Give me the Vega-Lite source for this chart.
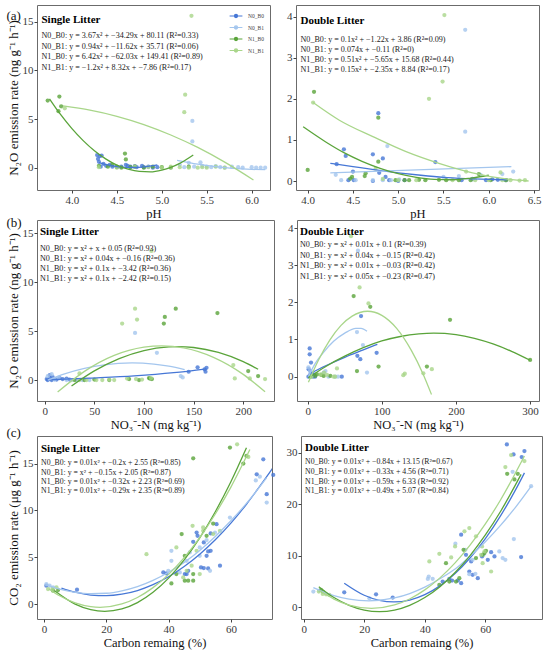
{
"$schema":"https://vega.github.io/schema/vega-lite/v6.json",
"padding":{"left":6,"top":4,"right":4,"bottom":2},
"background":"white",
"config":{
 "font":"Liberation Serif",
 "view":{"stroke":"#6b6b6b","strokeWidth":1},
 "axis":{"grid":false,"domain":false,"tickColor":"#444","tickSize":3,"tickWidth":1,"labelFont":"Liberation Serif","labelFontSize":11,"labelColor":"#3a3a3a","labelPadding":1,"titleFont":"Liberation Serif","titleFontSize":12.5,"titleFontWeight":"normal","titleColor":"#111","titlePadding":2},
 "axisY":{"titleFontSize":13}
},
"datasets":{
"pts":[
{"p":"a1","g":"N0_B0","x":4.28,"y":1.3},{"p":"a1","g":"N0_B0","x":4.31,"y":1.2},{"p":"a1","g":"N0_B0","x":4.29,"y":0.9},{"p":"a1","g":"N0_B0","x":4.3,"y":0.6},{"p":"a1","g":"N0_B0","x":4.33,"y":1.25},{"p":"a1","g":"N0_B0","x":4.35,"y":0.4},{"p":"a1","g":"N0_B0","x":4.32,"y":0.1},{"p":"a1","g":"N0_B0","x":4.38,"y":0.2},{"p":"a1","g":"N0_B0","x":4.42,"y":0.3},{"p":"a1","g":"N0_B0","x":4.45,"y":0.1},{"p":"a1","g":"N0_B0","x":4.5,"y":0.05},{"p":"a1","g":"N0_B0","x":4.55,"y":0.1},{"p":"a1","g":"N0_B0","x":4.6,"y":0.3},{"p":"a1","g":"N0_B0","x":4.62,"y":0.2},{"p":"a1","g":"N0_B0","x":4.65,"y":0.1},{"p":"a1","g":"N0_B0","x":4.7,"y":0.15},{"p":"a1","g":"N0_B0","x":4.72,"y":0.05},{"p":"a1","g":"N0_B0","x":4.78,"y":0.2},{"p":"a1","g":"N0_B0","x":4.8,"y":0.05},{"p":"a1","g":"N0_B0","x":4.85,"y":0.1},{"p":"a1","g":"N0_B0","x":4.9,"y":0.0},{"p":"a1","g":"N0_B0","x":4.95,"y":0.05},
{"p":"a1","g":"N0_B1","x":5.34,"y":4.8},{"p":"a1","g":"N0_B1","x":5.34,"y":2.7},{"p":"a1","g":"N0_B1","x":5.2,"y":0.3},{"p":"a1","g":"N0_B1","x":5.25,"y":0.05},{"p":"a1","g":"N0_B1","x":5.3,"y":0.5},{"p":"a1","g":"N0_B1","x":5.36,"y":0.1},{"p":"a1","g":"N0_B1","x":5.43,"y":0.55},{"p":"a1","g":"N0_B1","x":5.45,"y":0.2},{"p":"a1","g":"N0_B1","x":5.5,"y":0.1},{"p":"a1","g":"N0_B1","x":5.55,"y":0.05},{"p":"a1","g":"N0_B1","x":5.6,"y":0.15},{"p":"a1","g":"N0_B1","x":5.65,"y":0.05},{"p":"a1","g":"N0_B1","x":5.7,"y":0.0},{"p":"a1","g":"N0_B1","x":5.78,"y":0.1},{"p":"a1","g":"N0_B1","x":5.85,"y":0.05},{"p":"a1","g":"N0_B1","x":5.9,"y":0.0},{"p":"a1","g":"N0_B1","x":6.0,"y":0.05},{"p":"a1","g":"N0_B1","x":6.05,"y":0.0},{"p":"a1","g":"N0_B1","x":6.1,"y":0.0},{"p":"a1","g":"N0_B1","x":6.15,"y":0.0},
{"p":"a1","g":"N1_B0","x":3.73,"y":6.9},{"p":"a1","g":"N1_B0","x":3.86,"y":7.3},{"p":"a1","g":"N1_B0","x":3.88,"y":6.3},{"p":"a1","g":"N1_B0","x":3.85,"y":5.8},{"p":"a1","g":"N1_B0","x":4.59,"y":1.45},{"p":"a1","g":"N1_B0","x":4.6,"y":0.85},{"p":"a1","g":"N1_B0","x":4.3,"y":0.2},{"p":"a1","g":"N1_B0","x":4.4,"y":0.1},{"p":"a1","g":"N1_B0","x":4.45,"y":0.3},{"p":"a1","g":"N1_B0","x":4.5,"y":0.1},{"p":"a1","g":"N1_B0","x":4.55,"y":0.0},{"p":"a1","g":"N1_B0","x":4.65,"y":0.05},{"p":"a1","g":"N1_B0","x":4.7,"y":0.1},{"p":"a1","g":"N1_B0","x":4.8,"y":0.0},{"p":"a1","g":"N1_B0","x":4.9,"y":0.1},{"p":"a1","g":"N1_B0","x":5.0,"y":0.05},{"p":"a1","g":"N1_B0","x":5.1,"y":0.0},{"p":"a1","g":"N1_B0","x":5.3,"y":0.1},
{"p":"a1","g":"N1_B1","x":3.92,"y":6.1},{"p":"a1","g":"N1_B1","x":5.25,"y":5.7},{"p":"a1","g":"N1_B1","x":5.26,"y":7.5},{"p":"a1","g":"N1_B1","x":5.33,"y":15.6},{"p":"a1","g":"N1_B1","x":4.3,"y":0.05},{"p":"a1","g":"N1_B1","x":4.5,"y":0.0},{"p":"a1","g":"N1_B1","x":4.7,"y":0.1},{"p":"a1","g":"N1_B1","x":4.85,"y":0.05},{"p":"a1","g":"N1_B1","x":5.0,"y":0.0},{"p":"a1","g":"N1_B1","x":5.1,"y":0.1},{"p":"a1","g":"N1_B1","x":5.2,"y":0.05},{"p":"a1","g":"N1_B1","x":5.3,"y":0.0},{"p":"a1","g":"N1_B1","x":5.4,"y":0.0},{"p":"a1","g":"N1_B1","x":5.45,"y":0.05},{"p":"a1","g":"N1_B1","x":5.5,"y":0.0},{"p":"a1","g":"N1_B1","x":5.6,"y":0.1},{"p":"a1","g":"N1_B1","x":5.7,"y":0.0},

{"p":"a2","g":"N0_B0","x":4.32,"y":0.41},{"p":"a2","g":"N0_B0","x":4.4,"y":0.77},{"p":"a2","g":"N0_B0","x":4.42,"y":0.61},{"p":"a2","g":"N0_B0","x":4.5,"y":0.23},{"p":"a2","g":"N0_B0","x":4.45,"y":0.02},{"p":"a2","g":"N0_B0","x":4.51,"y":0.02},{"p":"a2","g":"N0_B0","x":4.72,"y":0.65},{"p":"a2","g":"N0_B0","x":4.78,"y":1.65},{"p":"a2","g":"N0_B0","x":4.83,"y":0.55},{"p":"a2","g":"N0_B0","x":4.79,"y":0.2},{"p":"a2","g":"N0_B0","x":4.72,"y":0.0},{"p":"a2","g":"N0_B0","x":4.86,"y":0.1},{"p":"a2","g":"N0_B0","x":4.9,"y":0.02},{"p":"a2","g":"N0_B0","x":5.0,"y":0.0},{"p":"a2","g":"N0_B0","x":5.07,"y":0.02},{"p":"a2","g":"N0_B0","x":5.41,"y":0.46},{"p":"a2","g":"N0_B0","x":5.7,"y":0.02},{"p":"a2","g":"N0_B0","x":5.82,"y":0.05},{"p":"a2","g":"N0_B0","x":5.97,"y":0.02},{"p":"a2","g":"N0_B0","x":6.04,"y":0.04},{"p":"a2","g":"N0_B0","x":6.19,"y":0.02},{"p":"a2","g":"N0_B0","x":6.1,"y":0.03},
{"p":"a2","g":"N0_B1","x":4.31,"y":0.15},{"p":"a2","g":"N0_B1","x":4.37,"y":0.02},{"p":"a2","g":"N0_B1","x":4.88,"y":0.85},{"p":"a2","g":"N0_B1","x":4.83,"y":0.02},{"p":"a2","g":"N0_B1","x":4.92,"y":0.02},{"p":"a2","g":"N0_B1","x":5.01,"y":0.04},{"p":"a2","g":"N0_B1","x":5.67,"y":0.12},{"p":"a2","g":"N0_B1","x":5.82,"y":0.04},{"p":"a2","g":"N0_B1","x":5.74,"y":3.68},{"p":"a2","g":"N0_B1","x":5.74,"y":1.2},{"p":"a2","g":"N0_B1","x":5.91,"y":0.15},{"p":"a2","g":"N0_B1","x":6.15,"y":0.17},{"p":"a2","g":"N0_B1","x":6.27,"y":0.23},{"p":"a2","g":"N0_B1","x":4.72,"y":0.02},{"p":"a2","g":"N0_B1","x":4.53,"y":0.02},{"p":"a2","g":"N0_B1","x":6.19,"y":0.02},{"p":"a2","g":"N0_B1","x":5.5,"y":0.1},
{"p":"a2","g":"N1_B0","x":4.0,"y":0.27},{"p":"a2","g":"N1_B0","x":4.07,"y":2.17},{"p":"a2","g":"N1_B0","x":4.47,"y":0.06},{"p":"a2","g":"N1_B0","x":4.49,"y":0.1},{"p":"a2","g":"N1_B0","x":4.63,"y":0.12},{"p":"a2","g":"N1_B0","x":4.64,"y":0.19},{"p":"a2","g":"N1_B0","x":4.78,"y":1.54},{"p":"a2","g":"N1_B0","x":4.78,"y":0.47},{"p":"a2","g":"N1_B0","x":4.97,"y":0.02},{"p":"a2","g":"N1_B0","x":5.07,"y":0.02},{"p":"a2","g":"N1_B0","x":5.12,"y":0.02},{"p":"a2","g":"N1_B0","x":5.23,"y":0.03},{"p":"a2","g":"N1_B0","x":5.3,"y":0.02},{"p":"a2","g":"N1_B0","x":5.45,"y":0.03},{"p":"a2","g":"N1_B0","x":5.53,"y":0.02},{"p":"a2","g":"N1_B0","x":5.67,"y":0.02},{"p":"a2","g":"N1_B0","x":5.8,"y":0.02},{"p":"a2","g":"N1_B0","x":5.89,"y":0.17},{"p":"a2","g":"N1_B0","x":6.02,"y":0.02},{"p":"a2","g":"N1_B0","x":6.19,"y":0.02},
{"p":"a2","g":"N1_B1","x":4.06,"y":1.91},{"p":"a2","g":"N1_B1","x":5.34,"y":2.0},{"p":"a2","g":"N1_B1","x":5.49,"y":2.42},{"p":"a2","g":"N1_B1","x":5.51,"y":4.04},{"p":"a2","g":"N1_B1","x":4.75,"y":0.3},{"p":"a2","g":"N1_B1","x":4.83,"y":0.05},{"p":"a2","g":"N1_B1","x":5.0,"y":0.02},{"p":"a2","g":"N1_B1","x":5.2,"y":0.02},{"p":"a2","g":"N1_B1","x":5.6,"y":0.02},{"p":"a2","g":"N1_B1","x":5.85,"y":0.02},{"p":"a2","g":"N1_B1","x":6.0,"y":0.02},{"p":"a2","g":"N1_B1","x":6.15,"y":0.02},{"p":"a2","g":"N1_B1","x":6.24,"y":0.02},{"p":"a2","g":"N1_B1","x":6.34,"y":0.01},{"p":"a2","g":"N1_B1","x":6.13,"y":0.21},{"p":"a2","g":"N1_B1","x":6.4,"y":0.02},{"p":"a2","g":"N1_B1","x":5.75,"y":0.23},

{"p":"b1","g":"N0_B0","x":3,"y":0.0},{"p":"b1","g":"N0_B0","x":5,"y":0.2},{"p":"b1","g":"N0_B0","x":5,"y":0.5},{"p":"b1","g":"N0_B0","x":8,"y":0.3},{"p":"b1","g":"N0_B0","x":10,"y":0.1},{"p":"b1","g":"N0_B0","x":12,"y":0.05},{"p":"b1","g":"N0_B0","x":15,"y":0.2},{"p":"b1","g":"N0_B0","x":18,"y":0.1},{"p":"b1","g":"N0_B0","x":22,"y":0.15},{"p":"b1","g":"N0_B0","x":25,"y":0.05},{"p":"b1","g":"N0_B0","x":2,"y":0.1},{"p":"b1","g":"N0_B0","x":7,"y":0.0},{"p":"b1","g":"N0_B0","x":145,"y":0.85},{"p":"b1","g":"N0_B0","x":154,"y":1.3},{"p":"b1","g":"N0_B0","x":161,"y":1.1},{"p":"b1","g":"N0_B0","x":162,"y":0.85},{"p":"b1","g":"N0_B0","x":163,"y":1.25},
{"p":"b1","g":"N0_B1","x":91,"y":4.82},{"p":"b1","g":"N0_B1","x":113,"y":2.78},{"p":"b1","g":"N0_B1","x":137,"y":0.41},{"p":"b1","g":"N0_B1","x":139,"y":0.27},{"p":"b1","g":"N0_B1","x":3,"y":0.4},{"p":"b1","g":"N0_B1","x":7,"y":0.6},{"p":"b1","g":"N0_B1","x":10,"y":0.05},{"p":"b1","g":"N0_B1","x":14,"y":0.25},{"p":"b1","g":"N0_B1","x":22,"y":0.0},{"p":"b1","g":"N0_B1","x":27,"y":0.0},{"p":"b1","g":"N0_B1","x":32,"y":0.0},{"p":"b1","g":"N0_B1","x":38,"y":0.0},{"p":"b1","g":"N0_B1","x":45,"y":0.0},
{"p":"b1","g":"N1_B0","x":132,"y":7.3},{"p":"b1","g":"N1_B0","x":121,"y":6.45},{"p":"b1","g":"N1_B0","x":120,"y":5.77},{"p":"b1","g":"N1_B0","x":174,"y":6.85},{"p":"b1","g":"N1_B0","x":205,"y":0.92},{"p":"b1","g":"N1_B0","x":215,"y":0.41},{"p":"b1","g":"N1_B0","x":50,"y":0.05},{"p":"b1","g":"N1_B0","x":65,"y":0.0},{"p":"b1","g":"N1_B0","x":85,"y":0.1},{"p":"b1","g":"N1_B0","x":95,"y":0.0},{"p":"b1","g":"N1_B0","x":105,"y":0.2},{"p":"b1","g":"N1_B0","x":106,"y":0.15},{"p":"b1","g":"N1_B0","x":108,"y":0.1},{"p":"b1","g":"N1_B0","x":40,"y":0.0},{"p":"b1","g":"N1_B0","x":30,"y":0.0},
{"p":"b1","g":"N1_B1","x":91,"y":7.3},{"p":"b1","g":"N1_B1","x":78,"y":5.77},{"p":"b1","g":"N1_B1","x":93,"y":6.18},{"p":"b1","g":"N1_B1","x":107.5,"y":13.2},{"p":"b1","g":"N1_B1","x":190,"y":1.53},{"p":"b1","g":"N1_B1","x":191.5,"y":0.17},{"p":"b1","g":"N1_B1","x":206.6,"y":0.17},{"p":"b1","g":"N1_B1","x":222,"y":0.1},{"p":"b1","g":"N1_B1","x":35,"y":0.68},{"p":"b1","g":"N1_B1","x":35,"y":0.0},{"p":"b1","g":"N1_B1","x":42,"y":0.0},{"p":"b1","g":"N1_B1","x":52,"y":0.0},{"p":"b1","g":"N1_B1","x":58,"y":0.0},{"p":"b1","g":"N1_B1","x":65,"y":0.05},{"p":"b1","g":"N1_B1","x":70,"y":0.0},{"p":"b1","g":"N1_B1","x":83,"y":0.15},{"p":"b1","g":"N1_B1","x":92,"y":0.1},{"p":"b1","g":"N1_B1","x":98,"y":0.05},{"p":"b1","g":"N1_B1","x":107,"y":0.2},

{"p":"b2","g":"N0_B0","x":2.7,"y":0.76},{"p":"b2","g":"N0_B0","x":2.7,"y":0.6},{"p":"b2","g":"N0_B0","x":4.5,"y":0.38},{"p":"b2","g":"N0_B0","x":1.3,"y":0.2},{"p":"b2","g":"N0_B0","x":3.6,"y":0.15},{"p":"b2","g":"N0_B0","x":5.8,"y":0.06},{"p":"b2","g":"N0_B0","x":8,"y":0.06},{"p":"b2","g":"N0_B0","x":10,"y":0.0},{"p":"b2","g":"N0_B0","x":46,"y":0.0},{"p":"b2","g":"N0_B0","x":67,"y":0.56},{"p":"b2","g":"N0_B0","x":71,"y":0.47},{"p":"b2","g":"N0_B0","x":72,"y":1.63},{"p":"b2","g":"N0_B0","x":93,"y":0.64},{"p":"b2","g":"N0_B0","x":7.2,"y":0.0},{"p":"b2","g":"N0_B0","x":1,"y":0.0},
{"p":"b2","g":"N0_B1","x":66.5,"y":1.2},{"p":"b2","g":"N0_B1","x":80,"y":0.11},{"p":"b2","g":"N0_B1","x":74.5,"y":0.85},{"p":"b2","g":"N0_B1","x":67.8,"y":3.39},{"p":"b2","g":"N0_B1","x":21.6,"y":0.11},{"p":"b2","g":"N0_B1","x":24,"y":0.15},{"p":"b2","g":"N0_B1","x":28,"y":0.0},{"p":"b2","g":"N0_B1","x":37,"y":0.0},{"p":"b2","g":"N0_B1","x":41,"y":0.0},{"p":"b2","g":"N0_B1","x":3,"y":0.15},{"p":"b2","g":"N0_B1","x":1,"y":0.25},
{"p":"b2","g":"N1_B0","x":66.5,"y":0.15},{"p":"b2","g":"N1_B0","x":95.6,"y":0.27},{"p":"b2","g":"N1_B0","x":160.8,"y":0.27},{"p":"b2","g":"N1_B0","x":192,"y":1.53},{"p":"b2","g":"N1_B0","x":300,"y":0.45},{"p":"b2","g":"N1_B0","x":62,"y":2.17},{"p":"b2","g":"N1_B0","x":84.4,"y":1.88},{"p":"b2","g":"N1_B0","x":12.6,"y":0.06},{"p":"b2","g":"N1_B0","x":21.6,"y":0.02},{"p":"b2","g":"N1_B0","x":30.5,"y":0.02},{"p":"b2","g":"N1_B0","x":3.6,"y":0.0},{"p":"b2","g":"N1_B0","x":10,"y":0.02},{"p":"b2","g":"N1_B0","x":18,"y":0.05},
{"p":"b2","g":"N1_B1","x":70,"y":2.4},{"p":"b2","g":"N1_B1","x":82,"y":1.97},{"p":"b2","g":"N1_B1","x":58.4,"y":3.78},{"p":"b2","g":"N1_B1","x":129,"y":0.04},{"p":"b2","g":"N1_B1","x":131,"y":0.08},{"p":"b2","g":"N1_B1","x":156,"y":0.09},{"p":"b2","g":"N1_B1","x":167.5,"y":0.2},{"p":"b2","g":"N1_B1","x":39.5,"y":0.22},{"p":"b2","g":"N1_B1","x":35,"y":0.0},{"p":"b2","g":"N1_B1","x":37,"y":0.0},{"p":"b2","g":"N1_B1","x":17.5,"y":0.06},{"p":"b2","g":"N1_B1","x":22,"y":0.11},{"p":"b2","g":"N1_B1","x":26,"y":0.05},{"p":"b2","g":"N1_B1","x":5,"y":0.0},

{"p":"c1","g":"N0_B0","x":0.75,"y":1.96},{"p":"c1","g":"N0_B0","x":10.6,"y":1.53},{"p":"c1","g":"N0_B0","x":38.3,"y":3.38},{"p":"c1","g":"N0_B0","x":39.3,"y":3.27},{"p":"c1","g":"N0_B0","x":45.8,"y":3.2},{"p":"c1","g":"N0_B0","x":47.9,"y":6.65},{"p":"c1","g":"N0_B0","x":49,"y":7.64},{"p":"c1","g":"N0_B0","x":49.3,"y":7.29},{"p":"c1","g":"N0_B0","x":50.4,"y":3.91},{"p":"c1","g":"N0_B0","x":51.3,"y":3.84},{"p":"c1","g":"N0_B0","x":52.7,"y":3.8},{"p":"c1","g":"N0_B0","x":52.2,"y":5.15},{"p":"c1","g":"N0_B0","x":52.7,"y":5.62},{"p":"c1","g":"N0_B0","x":53.5,"y":5.69},{"p":"c1","g":"N0_B0","x":53.5,"y":7.54},{"p":"c1","g":"N0_B0","x":55.4,"y":8.53},{"p":"c1","g":"N0_B0","x":51.3,"y":6.58},{"p":"c1","g":"N0_B0","x":56.5,"y":4.09},{"p":"c1","g":"N0_B0","x":68.3,"y":13.86},{"p":"c1","g":"N0_B0","x":71.5,"y":11.73},{"p":"c1","g":"N0_B0","x":73.6,"y":13.79},{"p":"c1","g":"N0_B0","x":70.4,"y":15.46},{"p":"c1","g":"N0_B0","x":45.2,"y":3.2},{"p":"c1","g":"N0_B0","x":46.3,"y":3.55},
{"p":"c1","g":"N0_B1","x":0.75,"y":2.13},{"p":"c1","g":"N0_B1","x":1.8,"y":1.96},{"p":"c1","g":"N0_B1","x":2.9,"y":1.78},{"p":"c1","g":"N0_B1","x":40.9,"y":5.69},{"p":"c1","g":"N0_B1","x":40.9,"y":4.62},{"p":"c1","g":"N0_B1","x":45.8,"y":4.62},{"p":"c1","g":"N0_B1","x":46.8,"y":5.51},{"p":"c1","g":"N0_B1","x":50,"y":5.15},{"p":"c1","g":"N0_B1","x":52.2,"y":6.83},{"p":"c1","g":"N0_B1","x":53.3,"y":3.55},{"p":"c1","g":"N0_B1","x":54.9,"y":7.64},{"p":"c1","g":"N0_B1","x":59.7,"y":9.24},{"p":"c1","g":"N0_B1","x":68,"y":13.2},{"p":"c1","g":"N0_B1","x":69.3,"y":13.6},{"p":"c1","g":"N0_B1","x":71.5,"y":10.84},{"p":"c1","g":"N0_B1","x":39.9,"y":3.55},{"p":"c1","g":"N0_B1","x":43.6,"y":3.38},{"p":"c1","g":"N0_B1","x":50,"y":6.04},
{"p":"c1","g":"N1_B0","x":2.9,"y":1.42},{"p":"c1","g":"N1_B0","x":4.5,"y":1.49},{"p":"c1","g":"N1_B0","x":40.9,"y":2.2},{"p":"c1","g":"N1_B0","x":44.2,"y":7.47},{"p":"c1","g":"N1_B0","x":45.2,"y":5.15},{"p":"c1","g":"N1_B0","x":45.2,"y":2.49},{"p":"c1","g":"N1_B0","x":46.3,"y":2.49},{"p":"c1","g":"N1_B0","x":47.9,"y":2.49},{"p":"c1","g":"N1_B0","x":47.9,"y":15.57},{"p":"c1","g":"N1_B0","x":52.2,"y":7.29},{"p":"c1","g":"N1_B0","x":54.3,"y":8.6},{"p":"c1","g":"N1_B0","x":59.7,"y":16.71},{"p":"c1","g":"N1_B0","x":64,"y":15.0},{"p":"c1","g":"N1_B0","x":65,"y":15.82},{"p":"c1","g":"N1_B0","x":47.9,"y":3.2},{"p":"c1","g":"N1_B0","x":42.5,"y":3.2},
{"p":"c1","g":"N1_B1","x":1.3,"y":1.6},{"p":"c1","g":"N1_B1","x":2.7,"y":1.6},{"p":"c1","g":"N1_B1","x":4,"y":1.78},{"p":"c1","g":"N1_B1","x":32.9,"y":5.33},{"p":"c1","g":"N1_B1","x":42.5,"y":6.04},{"p":"c1","g":"N1_B1","x":47.7,"y":8.35},{"p":"c1","g":"N1_B1","x":51.1,"y":8.18},{"p":"c1","g":"N1_B1","x":51.1,"y":7.82},{"p":"c1","g":"N1_B1","x":54.3,"y":7.47},{"p":"c1","g":"N1_B1","x":56.5,"y":7.82},{"p":"c1","g":"N1_B1","x":62,"y":17.06},{"p":"c1","g":"N1_B1","x":65.6,"y":15.71},{"p":"c1","g":"N1_B1","x":45.8,"y":3.55},{"p":"c1","g":"N1_B1","x":47.4,"y":4.09},{"p":"c1","g":"N1_B1","x":50,"y":3.2},{"p":"c1","g":"N1_B1","x":44.7,"y":2.84},{"p":"c1","g":"N1_B1","x":49,"y":5.69},

{"p":"c2","g":"N0_B0","x":13.4,"y":2.92},{"p":"c2","g":"N0_B0","x":23.9,"y":2.53},{"p":"c2","g":"N0_B0","x":29.4,"y":1.88},{"p":"c2","g":"N0_B0","x":52,"y":14.09},{"p":"c2","g":"N0_B0","x":52,"y":4.68},{"p":"c2","g":"N0_B0","x":50.9,"y":5.19},{"p":"c2","g":"N0_B0","x":49,"y":5.19},{"p":"c2","g":"N0_B0","x":53.6,"y":10.19},{"p":"c2","g":"N0_B0","x":54.7,"y":6.95},{"p":"c2","g":"N0_B0","x":55.3,"y":8.9},{"p":"c2","g":"N0_B0","x":55.8,"y":6.3},{"p":"c2","g":"N0_B0","x":57.5,"y":5.65},{"p":"c2","g":"N0_B0","x":58.9,"y":9.87},{"p":"c2","g":"N0_B0","x":60.8,"y":9.22},{"p":"c2","g":"N0_B0","x":61.9,"y":10.71},{"p":"c2","g":"N0_B0","x":63,"y":9.87},{"p":"c2","g":"N0_B0","x":67.1,"y":31.62},{"p":"c2","g":"N0_B0","x":69.3,"y":29.68},{"p":"c2","g":"N0_B0","x":72,"y":29.16},{"p":"c2","g":"N0_B0","x":72.9,"y":30.32},{"p":"c2","g":"N0_B0","x":71.8,"y":9.74},{"p":"c2","g":"N0_B0","x":45.9,"y":5.0},{"p":"c2","g":"N0_B0","x":48.1,"y":5.52},
{"p":"c2","g":"N0_B1","x":3.2,"y":3.05},{"p":"c2","g":"N0_B1","x":5.2,"y":3.25},{"p":"c2","g":"N0_B1","x":21.7,"y":1.75},{"p":"c2","g":"N0_B1","x":41.3,"y":5.97},{"p":"c2","g":"N0_B1","x":42.6,"y":5.52},{"p":"c2","g":"N0_B1","x":50.1,"y":12.34},{"p":"c2","g":"N0_B1","x":53.4,"y":11.17},{"p":"c2","g":"N0_B1","x":54.7,"y":6.43},{"p":"c2","g":"N0_B1","x":56.7,"y":6.49},{"p":"c2","g":"N0_B1","x":59.4,"y":10.19},{"p":"c2","g":"N0_B1","x":64.6,"y":10.84},{"p":"c2","g":"N0_B1","x":65.7,"y":9.55},{"p":"c2","g":"N0_B1","x":66.6,"y":9.22},{"p":"c2","g":"N0_B1","x":69,"y":26.3},{"p":"c2","g":"N0_B1","x":69.4,"y":13.25},{"p":"c2","g":"N0_B1","x":75.1,"y":23.51},{"p":"c2","g":"N0_B1","x":55.8,"y":9.22},{"p":"c2","g":"N0_B1","x":41,"y":5.5},
{"p":"c2","g":"N1_B0","x":5.7,"y":3.38},{"p":"c2","g":"N1_B0","x":6.3,"y":3.05},{"p":"c2","g":"N1_B0","x":47,"y":8.57},{"p":"c2","g":"N1_B0","x":44.8,"y":4.35},{"p":"c2","g":"N1_B0","x":48.1,"y":5.0},{"p":"c2","g":"N1_B0","x":50.3,"y":5.0},{"p":"c2","g":"N1_B0","x":51.4,"y":5.65},{"p":"c2","g":"N1_B0","x":52.8,"y":11.17},{"p":"c2","g":"N1_B0","x":59.7,"y":10.52},{"p":"c2","g":"N1_B0","x":60.2,"y":10.97},{"p":"c2","g":"N1_B0","x":67.2,"y":25.91},{"p":"c2","g":"N1_B0","x":69.6,"y":24.81},{"p":"c2","g":"N1_B0","x":70.7,"y":25.91},{"p":"c2","g":"N1_B0","x":56.9,"y":9.55},{"p":"c2","g":"N1_B0","x":59.1,"y":10.19},
{"p":"c2","g":"N1_B1","x":5,"y":3.05},{"p":"c2","g":"N1_B1","x":6.3,"y":2.6},{"p":"c2","g":"N1_B1","x":7.4,"y":2.53},{"p":"c2","g":"N1_B1","x":8.5,"y":2.4},{"p":"c2","g":"N1_B1","x":41.5,"y":8.9},{"p":"c2","g":"N1_B1","x":44.8,"y":10.39},{"p":"c2","g":"N1_B1","x":48.7,"y":9.68},{"p":"c2","g":"N1_B1","x":50,"y":11.82},{"p":"c2","g":"N1_B1","x":53.1,"y":14.74},{"p":"c2","g":"N1_B1","x":54.7,"y":15.39},{"p":"c2","g":"N1_B1","x":56.9,"y":13.77},{"p":"c2","g":"N1_B1","x":58.9,"y":11.82},{"p":"c2","g":"N1_B1","x":59.1,"y":8.57},{"p":"c2","g":"N1_B1","x":61.9,"y":6.95},{"p":"c2","g":"N1_B1","x":66.6,"y":27.21},{"p":"c2","g":"N1_B1","x":68.5,"y":29.55},{"p":"c2","g":"N1_B1","x":72.9,"y":28.38},{"p":"c2","g":"N1_B1","x":58.6,"y":10.19},{"p":"c2","g":"N1_B1","x":59.7,"y":10.84}
],
"crv":[
{"p":"a1","g":"N0_B0","x":4.3,"y":0.52},{"p":"a1","g":"N0_B0","x":4.4,"y":0.28},{"p":"a1","g":"N0_B0","x":4.5,"y":0.12},{"p":"a1","g":"N0_B0","x":4.6,"y":0.04},{"p":"a1","g":"N0_B0","x":4.7,"y":0.02},{"p":"a1","g":"N0_B0","x":4.8,"y":0.08},{"p":"a1","g":"N0_B0","x":4.9,"y":0.21},{"p":"a1","g":"N0_B0","x":4.95,"y":0.29},
{"p":"a1","g":"N0_B1","x":5.17,"y":0.76},{"p":"a1","g":"N0_B1","x":5.4,"y":0.37},{"p":"a1","g":"N0_B1","x":5.6,"y":0.12},{"p":"a1","g":"N0_B1","x":5.8,"y":-0.07},{"p":"a1","g":"N0_B1","x":6.0,"y":-0.17},{"p":"a1","g":"N0_B1","x":6.15,"y":-0.2},
{"p":"a1","g":"N1_B0","x":3.75,"y":7.08},{"p":"a1","g":"N1_B0","x":3.875,"y":5.44},{"p":"a1","g":"N1_B0","x":4.0,"y":4.01},{"p":"a1","g":"N1_B0","x":4.125,"y":2.78},{"p":"a1","g":"N1_B0","x":4.25,"y":1.74},{"p":"a1","g":"N1_B0","x":4.375,"y":0.91},{"p":"a1","g":"N1_B0","x":4.5,"y":0.27},{"p":"a1","g":"N1_B0","x":4.625,"y":-0.15},{"p":"a1","g":"N1_B0","x":4.75,"y":-0.38},{"p":"a1","g":"N1_B0","x":4.875,"y":-0.42},{"p":"a1","g":"N1_B0","x":5.0,"y":-0.24},{"p":"a1","g":"N1_B0","x":5.1,"y":0.04},{"p":"a1","g":"N1_B0","x":5.2,"y":0.45},{"p":"a1","g":"N1_B0","x":5.35,"y":1.31},
{"p":"a1","g":"N1_B1","x":3.9,"y":6.34},{"p":"a1","g":"N1_B1","x":4.2,"y":5.91},{"p":"a1","g":"N1_B1","x":4.5,"y":5.28},{"p":"a1","g":"N1_B1","x":4.8,"y":4.43},{"p":"a1","g":"N1_B1","x":5.1,"y":3.36},{"p":"a1","g":"N1_B1","x":5.4,"y":2.08},{"p":"a1","g":"N1_B1","x":5.7,"y":0.57},{"p":"a1","g":"N1_B1","x":6.02,"y":-1.26},

{"p":"a2","g":"N0_B0","x":4.25,"y":0.43},{"p":"a2","g":"N0_B0","x":4.5,"y":0.35},{"p":"a2","g":"N0_B0","x":4.75,"y":0.27},{"p":"a2","g":"N0_B0","x":5.0,"y":0.2},{"p":"a2","g":"N0_B0","x":5.25,"y":0.14},{"p":"a2","g":"N0_B0","x":5.5,"y":0.09},{"p":"a2","g":"N0_B0","x":5.75,"y":0.06},{"p":"a2","g":"N0_B0","x":6.0,"y":0.04},{"p":"a2","g":"N0_B0","x":6.2,"y":0.03},
{"p":"a2","g":"N0_B1","x":4.25,"y":0.2},{"p":"a2","g":"N0_B1","x":6.25,"y":0.35},
{"p":"a2","g":"N1_B0","x":3.95,"y":1.32},{"p":"a2","g":"N1_B0","x":4.2,"y":0.95},{"p":"a2","g":"N1_B0","x":4.4,"y":0.69},{"p":"a2","g":"N1_B0","x":4.6,"y":0.48},{"p":"a2","g":"N1_B0","x":4.8,"y":0.31},{"p":"a2","g":"N1_B0","x":5.0,"y":0.18},{"p":"a2","g":"N1_B0","x":5.2,"y":0.09},{"p":"a2","g":"N1_B0","x":5.4,"y":0.04},{"p":"a2","g":"N1_B0","x":5.6,"y":0.03},{"p":"a2","g":"N1_B0","x":5.8,"y":0.07},{"p":"a2","g":"N1_B0","x":6.0,"y":0.14},
{"p":"a2","g":"N1_B1","x":4.06,"y":1.91},{"p":"a2","g":"N1_B1","x":4.35,"y":1.48},{"p":"a2","g":"N1_B1","x":4.72,"y":1.08},{"p":"a2","g":"N1_B1","x":5.08,"y":0.72},{"p":"a2","g":"N1_B1","x":5.45,"y":0.43},{"p":"a2","g":"N1_B1","x":5.82,"y":0.2},{"p":"a2","g":"N1_B1","x":6.19,"y":0.05},{"p":"a2","g":"N1_B1","x":6.44,"y":0.0},

{"p":"b1","g":"N0_B0","x":2,"y":0.02},{"p":"b1","g":"N0_B0","x":45,"y":0.2},{"p":"b1","g":"N0_B0","x":90,"y":0.42},{"p":"b1","g":"N0_B0","x":130,"y":0.75},{"p":"b1","g":"N0_B0","x":163,"y":1.15},
{"p":"b1","g":"N0_B1","x":3,"y":0.0},{"p":"b1","g":"N0_B1","x":20,"y":0.63},{"p":"b1","g":"N0_B1","x":40,"y":1.19},{"p":"b1","g":"N0_B1","x":60,"y":1.56},{"p":"b1","g":"N0_B1","x":88,"y":1.75},{"p":"b1","g":"N0_B1","x":110,"y":1.63},{"p":"b1","g":"N0_B1","x":125,"y":1.42},{"p":"b1","g":"N0_B1","x":141,"y":1.07},
{"p":"b1","g":"N1_B0","x":27,"y":-0.6},{"p":"b1","g":"N1_B0","x":50,"y":0.94},{"p":"b1","g":"N1_B0","x":75,"y":2.2},{"p":"b1","g":"N1_B0","x":100,"y":3.02},{"p":"b1","g":"N1_B0","x":125,"y":3.39},{"p":"b1","g":"N1_B0","x":134,"y":3.42},{"p":"b1","g":"N1_B0","x":150,"y":3.33},{"p":"b1","g":"N1_B0","x":175,"y":2.82},{"p":"b1","g":"N1_B0","x":200,"y":1.88},{"p":"b1","g":"N1_B0","x":215,"y":1.1},
{"p":"b1","g":"N1_B1","x":13,"y":-1.22},{"p":"b1","g":"N1_B1","x":40,"y":0.89},{"p":"b1","g":"N1_B1","x":70,"y":2.52},{"p":"b1","g":"N1_B1","x":100,"y":3.36},{"p":"b1","g":"N1_B1","x":118,"y":3.5},{"p":"b1","g":"N1_B1","x":140,"y":3.29},{"p":"b1","g":"N1_B1","x":170,"y":2.32},{"p":"b1","g":"N1_B1","x":200,"y":0.58},{"p":"b1","g":"N1_B1","x":222,"y":-1.2},

{"p":"b2","g":"N0_B0","x":1,"y":0.06},{"p":"b2","g":"N0_B0","x":25,"y":0.3},{"p":"b2","g":"N0_B0","x":50,"y":0.52},{"p":"b2","g":"N0_B0","x":75,"y":0.72},{"p":"b2","g":"N0_B0","x":94,"y":0.87},
{"p":"b2","g":"N0_B1","x":1,"y":0.0},{"p":"b2","g":"N0_B1","x":10,"y":0.35},{"p":"b2","g":"N0_B1","x":20,"y":0.62},{"p":"b2","g":"N0_B1","x":35,"y":0.95},{"p":"b2","g":"N0_B1","x":50,"y":1.17},{"p":"b2","g":"N0_B1","x":65,"y":1.3},{"p":"b2","g":"N0_B1","x":72,"y":1.3},{"p":"b2","g":"N0_B1","x":80,"y":1.22},
{"p":"b2","g":"N1_B0","x":1,"y":-0.03},{"p":"b2","g":"N1_B0","x":25,"y":0.28},{"p":"b2","g":"N1_B0","x":50,"y":0.55},{"p":"b2","g":"N1_B0","x":75,"y":0.78},{"p":"b2","g":"N1_B0","x":100,"y":0.96},{"p":"b2","g":"N1_B0","x":125,"y":1.08},{"p":"b2","g":"N1_B0","x":150,"y":1.15},{"p":"b2","g":"N1_B0","x":170,"y":1.17},{"p":"b2","g":"N1_B0","x":200,"y":1.13},{"p":"b2","g":"N1_B0","x":225,"y":1.03},{"p":"b2","g":"N1_B0","x":250,"y":0.88},{"p":"b2","g":"N1_B0","x":275,"y":0.68},{"p":"b2","g":"N1_B0","x":300,"y":0.44},
{"p":"b2","g":"N1_B1","x":1,"y":-0.15},{"p":"b2","g":"N1_B1","x":15,"y":0.46},{"p":"b2","g":"N1_B1","x":30,"y":0.99},{"p":"b2","g":"N1_B1","x":45,"y":1.38},{"p":"b2","g":"N1_B1","x":60,"y":1.63},{"p":"b2","g":"N1_B1","x":80.7,"y":1.76},{"p":"b2","g":"N1_B1","x":100,"y":1.65},{"p":"b2","g":"N1_B1","x":120,"y":1.3},{"p":"b2","g":"N1_B1","x":140,"y":0.7},{"p":"b2","g":"N1_B1","x":155,"y":0.1},{"p":"b2","g":"N1_B1","x":167,"y":-0.48},

{"p":"c1","g":"N0_B0","x":5.6,"y":1.71},{"p":"c1","g":"N0_B0","x":10,"y":1.26},{"p":"c1","g":"N0_B0","x":15,"y":0.96},{"p":"c1","g":"N0_B0","x":20,"y":0.89},{"p":"c1","g":"N0_B0","x":25,"y":1.05},{"p":"c1","g":"N0_B0","x":30,"y":1.44},{"p":"c1","g":"N0_B0","x":35,"y":2.07},{"p":"c1","g":"N0_B0","x":40,"y":2.91},{"p":"c1","g":"N0_B0","x":45,"y":4.0},{"p":"c1","g":"N0_B0","x":50,"y":5.32},{"p":"c1","g":"N0_B0","x":55,"y":6.86},{"p":"c1","g":"N0_B0","x":60,"y":8.64},{"p":"c1","g":"N0_B0","x":65,"y":10.66},{"p":"c1","g":"N0_B0","x":70,"y":12.91},{"p":"c1","g":"N0_B0","x":73.6,"y":14.6},
{"p":"c1","g":"N0_B1","x":0.75,"y":2.06},{"p":"c1","g":"N0_B1","x":5,"y":1.6},{"p":"c1","g":"N0_B1","x":10,"y":1.25},{"p":"c1","g":"N0_B1","x":15,"y":1.1},{"p":"c1","g":"N0_B1","x":20,"y":1.15},{"p":"c1","g":"N0_B1","x":25,"y":1.41},{"p":"c1","g":"N0_B1","x":30,"y":1.86},{"p":"c1","g":"N0_B1","x":35,"y":2.52},{"p":"c1","g":"N0_B1","x":40,"y":3.39},{"p":"c1","g":"N0_B1","x":45,"y":4.45},{"p":"c1","g":"N0_B1","x":50,"y":5.73},{"p":"c1","g":"N0_B1","x":55,"y":7.22},{"p":"c1","g":"N0_B1","x":60,"y":8.89},{"p":"c1","g":"N0_B1","x":65,"y":10.75},{"p":"c1","g":"N0_B1","x":71.5,"y":13.5},
{"p":"c1","g":"N1_B0","x":3.4,"y":1.41},{"p":"c1","g":"N1_B0","x":10,"y":-0.02},{"p":"c1","g":"N1_B0","x":15,"y":-0.61},{"p":"c1","g":"N1_B0","x":19.5,"y":-0.78},{"p":"c1","g":"N1_B0","x":25,"y":-0.52},{"p":"c1","g":"N1_B0","x":30,"y":0.15},{"p":"c1","g":"N1_B0","x":35,"y":1.25},{"p":"c1","g":"N1_B0","x":40,"y":2.77},{"p":"c1","g":"N1_B0","x":45,"y":4.71},{"p":"c1","g":"N1_B0","x":50,"y":7.07},{"p":"c1","g":"N1_B0","x":55,"y":9.86},{"p":"c1","g":"N1_B0","x":60,"y":13.06},{"p":"c1","g":"N1_B0","x":65,"y":16.69},
{"p":"c1","g":"N1_B1","x":1.6,"y":1.61},{"p":"c1","g":"N1_B1","x":5,"y":0.88},{"p":"c1","g":"N1_B1","x":10,"y":0.12},{"p":"c1","g":"N1_B1","x":15,"y":-0.28},{"p":"c1","g":"N1_B1","x":18,"y":-0.35},{"p":"c1","g":"N1_B1","x":25,"y":0.01},{"p":"c1","g":"N1_B1","x":30,"y":0.7},{"p":"c1","g":"N1_B1","x":35,"y":1.75},{"p":"c1","g":"N1_B1","x":40,"y":3.17},{"p":"c1","g":"N1_B1","x":45,"y":4.96},{"p":"c1","g":"N1_B1","x":50,"y":7.1},{"p":"c1","g":"N1_B1","x":55,"y":9.62},{"p":"c1","g":"N1_B1","x":60,"y":12.49},{"p":"c1","g":"N1_B1","x":66.1,"y":16.5},

{"p":"c2","g":"N0_B0","x":13.4,"y":4.68},{"p":"c2","g":"N0_B0","x":20,"y":2.34},{"p":"c2","g":"N0_B0","x":25,"y":1.36},{"p":"c2","g":"N0_B0","x":29.8,"y":1.05},{"p":"c2","g":"N0_B0","x":35,"y":1.41},{"p":"c2","g":"N0_B0","x":40,"y":2.45},{"p":"c2","g":"N0_B0","x":45,"y":4.16},{"p":"c2","g":"N0_B0","x":50,"y":6.55},{"p":"c2","g":"N0_B0","x":55,"y":9.61},{"p":"c2","g":"N0_B0","x":60,"y":13.34},{"p":"c2","g":"N0_B0","x":65,"y":17.75},{"p":"c2","g":"N0_B0","x":70,"y":22.83},{"p":"c2","g":"N0_B0","x":72.9,"y":26.1},
{"p":"c2","g":"N0_B1","x":3.2,"y":3.83},{"p":"c2","g":"N0_B1","x":10,"y":2.26},{"p":"c2","g":"N0_B1","x":15,"y":1.57},{"p":"c2","g":"N0_B1","x":21.5,"y":1.25},{"p":"c2","g":"N0_B1","x":30,"y":1.81},{"p":"c2","g":"N0_B1","x":35,"y":2.67},{"p":"c2","g":"N0_B1","x":40,"y":3.91},{"p":"c2","g":"N0_B1","x":45,"y":5.53},{"p":"c2","g":"N0_B1","x":50,"y":7.42},{"p":"c2","g":"N0_B1","x":55,"y":9.94},{"p":"c2","g":"N0_B1","x":60,"y":12.73},{"p":"c2","g":"N0_B1","x":65,"y":15.91},{"p":"c2","g":"N0_B1","x":70,"y":19.46},{"p":"c2","g":"N0_B1","x":75.1,"y":23.49},
{"p":"c2","g":"N1_B0","x":5,"y":4.01},{"p":"c2","g":"N1_B0","x":10,"y":1.89},{"p":"c2","g":"N1_B0","x":15,"y":0.37},{"p":"c2","g":"N1_B0","x":20,"y":-0.55},{"p":"c2","g":"N1_B0","x":25,"y":-0.85},{"p":"c2","g":"N1_B0","x":30,"y":-0.55},{"p":"c2","g":"N1_B0","x":35,"y":0.37},{"p":"c2","g":"N1_B0","x":40,"y":1.89},{"p":"c2","g":"N1_B0","x":45,"y":4.01},{"p":"c2","g":"N1_B0","x":50,"y":6.75},{"p":"c2","g":"N1_B0","x":55,"y":10.09},{"p":"c2","g":"N1_B0","x":60,"y":14.05},{"p":"c2","g":"N1_B0","x":65,"y":18.6},{"p":"c2","g":"N1_B0","x":71.8,"y":25.8},
{"p":"c2","g":"N1_B1","x":5.2,"y":3.25},{"p":"c2","g":"N1_B1","x":10,"y":1.6},{"p":"c2","g":"N1_B1","x":15,"y":0.44},{"p":"c2","g":"N1_B1","x":22.4,"y":-0.2},{"p":"c2","g":"N1_B1","x":30,"y":0.46},{"p":"c2","g":"N1_B1","x":35,"y":1.62},{"p":"c2","g":"N1_B1","x":40,"y":3.38},{"p":"c2","g":"N1_B1","x":45,"y":5.71},{"p":"c2","g":"N1_B1","x":50,"y":8.62},{"p":"c2","g":"N1_B1","x":55,"y":12.11},{"p":"c2","g":"N1_B1","x":60,"y":16.18},{"p":"c2","g":"N1_B1","x":65,"y":20.83},{"p":"c2","g":"N1_B1","x":72.9,"y":29.36}
]
},
"vconcat":[
{"title":{"text":"(a)","anchor":"start","frame":"bounds","offset":-18,"fontSize":13,"fontWeight":"normal","font":"Liberation Serif","color":"#111"},
 "spacing":15,
 "resolve":{"scale":{"x":"independent","y":"independent","color":"independent"}},
 "hconcat":[
 {"width":233,"height":185,
  "title":{"text":"Single Litter","subtitle":["N0_B0: y = 3.67x² + −34.29x + 80.11 (R²=0.33)","N0_B1: y = 0.94x² + −11.62x + 35.71 (R²=0.06)","N1_B0: y = 6.42x² + −62.03x + 149.41 (R²=0.89)","N1_B1: y = −1.2x² + 8.32x + −7.86 (R²=0.17)"],"anchor":"start","frame":"group","offset":-67,"dx":4.5,"font":"Liberation Serif","fontSize":11,"fontWeight":"bold","color":"#000","subtitleFont":"Liberation Serif","subtitleFontSize":8.1,"subtitleColor":"#222","subtitleLineHeight":10.5,"subtitlePadding":7},
  "layer":[
   {"data":{"name":"pts"},"transform":[{"filter":"datum.p == 'a1'"}],"mark":{"type":"circle","size":18,"opacity":0.8},
    "encoding":{"x":{"field":"x","type":"quantitative","scale":{"domain":[3.611,6.204],"nice":false,"zero":false},"axis":{"values":[4,4.5,5,5.5,6],"format":".1f","title":"pH"}},
     "y":{"field":"y","type":"quantitative","scale":{"domain":[-2.29,16.71],"nice":false,"zero":false},"axis":{"values":[0,5,10,15],"title":"N₂O emission rate (ng g⁻¹ h⁻¹)"}},
     "color":{"field":"g","type":"nominal","scale":{"domain":["N0_B0","N0_B1","N1_B0","N1_B1"],"range":["#4677d6","#a4c6ee","#5aa43a","#a9d68a"]},
      "legend":{"orient":"top-right","offset":4,"title":null,"labelFont":"Liberation Serif","labelFontSize":5.5,"labelColor":"#444","symbolType":"M-1.6,0L1.6,0M-0.4,0A0.4,0.4,0,1,1,0.4,0A0.4,0.4,0,1,1,-0.4,0","symbolSize":64,"symbolStrokeWidth":1.1,"symbolOpacity":1,"rowPadding":2.5,"labelOffset":7,"padding":2}}}},
   {"data":{"name":"crv"},"transform":[{"filter":"datum.p == 'a1'"}],"mark":{"type":"line","interpolate":"monotone","strokeWidth":1.3,"clip":true},
    "encoding":{"x":{"field":"x","type":"quantitative","scale":{"domain":[3.611,6.204],"nice":false,"zero":false},"axis":{"values":[4,4.5,5,5.5,6],"format":".1f","title":"pH"}},
     "y":{"field":"y","type":"quantitative","scale":{"domain":[-2.29,16.71],"nice":false,"zero":false},"axis":{"values":[0,5,10,15],"title":"N₂O emission rate (ng g⁻¹ h⁻¹)"}},
     "color":{"field":"g","type":"nominal","scale":{"domain":["N0_B0","N0_B1","N1_B0","N1_B1"],"range":["#4677d6","#a4c6ee","#5aa43a","#a9d68a"]},
      "legend":{"orient":"top-right","offset":4,"title":null,"labelFont":"Liberation Serif","labelFontSize":5.5,"labelColor":"#444","symbolType":"M-1.6,0L1.6,0M-0.4,0A0.4,0.4,0,1,1,0.4,0A0.4,0.4,0,1,1,-0.4,0","symbolSize":64,"symbolStrokeWidth":1.1,"symbolOpacity":1,"rowPadding":2.5,"labelOffset":7,"padding":2}}}}
  ]},
 {"width":243,"height":185,
  "title":{"text":"Double Litter","subtitle":["N0_B0: y = 0.1x² + −1.22x + 3.86 (R²=0.09)","N0_B1: y = 0.074x + −0.11 (R²=0)","N1_B0: y = 0.51x² + −5.65x + 15.68 (R²=0.44)","N1_B1: y = 0.15x² + −2.35x + 8.84 (R²=0.17)"],"anchor":"start","frame":"group","offset":-69.5,"dx":4.5,"font":"Liberation Serif","fontSize":11,"fontWeight":"bold","color":"#000","subtitleFont":"Liberation Serif","subtitleFontSize":8.1,"subtitleColor":"#222","subtitleLineHeight":10.2,"subtitlePadding":9.5},
  "layer":[
   {"data":{"name":"pts"},"transform":[{"filter":"datum.p == 'a2'"}],"mark":{"type":"circle","size":18,"opacity":0.8},
    "encoding":{"x":{"field":"x","type":"quantitative","scale":{"domain":[3.871,6.555],"nice":false,"zero":false},"axis":{"values":[4,4.5,5,5.5,6,6.5],"format":".1f","title":"pH"}},
     "y":{"field":"y","type":"quantitative","scale":{"domain":[-0.219,4.284],"nice":false,"zero":false},"axis":{"values":[0,1,2,3,4],"title":null}},
     "color":{"field":"g","type":"nominal","scale":{"domain":["N0_B0","N0_B1","N1_B0","N1_B1"],"range":["#4677d6","#a4c6ee","#5aa43a","#a9d68a"]},"legend":null}}},
   {"data":{"name":"crv"},"transform":[{"filter":"datum.p == 'a2'"}],"mark":{"type":"line","interpolate":"monotone","strokeWidth":1.3,"clip":true},
    "encoding":{"x":{"field":"x","type":"quantitative","scale":{"domain":[3.871,6.555],"nice":false,"zero":false},"axis":{"values":[4,4.5,5,5.5,6,6.5],"format":".1f","title":"pH"}},
     "y":{"field":"y","type":"quantitative","scale":{"domain":[-0.219,4.284],"nice":false,"zero":false},"axis":{"values":[0,1,2,3,4],"title":null}},
     "color":{"field":"g","type":"nominal","scale":{"domain":["N0_B0","N0_B1","N1_B0","N1_B1"],"range":["#4677d6","#a4c6ee","#5aa43a","#a9d68a"]},"legend":null}}}
  ]}
 ]},
{"title":{"text":"(b)","anchor":"start","frame":"bounds","offset":-10,"fontSize":13,"fontWeight":"normal","font":"Liberation Serif","color":"#111"},
 "spacing":12,
 "resolve":{"scale":{"x":"independent","y":"independent","color":"independent"}},
 "hconcat":[
 {"width":237,"height":181,
  "title":{"text":"Single Litter","subtitle":["N0_B0: y = x² + x + 0.05 (R²=0.93)","N0_B1: y = x² + 0.04x + −0.16 (R²=0.36)","N1_B0: y = x² + 0.1x + −3.42 (R²=0.36)","N1_B1: y = x² + 0.1x + −2.42 (R²=0.15)"],"anchor":"start","frame":"group","offset":-63,"dx":3,"font":"Liberation Serif","fontSize":11,"fontWeight":"bold","color":"#000","subtitleFont":"Liberation Serif","subtitleFontSize":8.1,"subtitleColor":"#222","subtitleLineHeight":10,"subtitlePadding":8},
  "layer":[
   {"data":{"name":"pts"},"transform":[{"filter":"datum.p == 'b1'"}],"mark":{"type":"circle","size":18,"opacity":0.8},
    "encoding":{"x":{"field":"x","type":"quantitative","scale":{"domain":[-7.8,231],"nice":false,"zero":false},"axis":{"values":[0,50,100,150,200],"title":"NO₃⁻-N (mg kg⁻¹)"}},
     "y":{"field":"y","type":"quantitative","scale":{"domain":[-2.14,16.36],"nice":false,"zero":false},"axis":{"values":[0,5,10,15],"title":"N₂O emission rate (ng g⁻¹ h⁻¹)"}},
     "color":{"field":"g","type":"nominal","scale":{"domain":["N0_B0","N0_B1","N1_B0","N1_B1"],"range":["#4677d6","#a4c6ee","#5aa43a","#a9d68a"]},"legend":null}}},
   {"data":{"name":"crv"},"transform":[{"filter":"datum.p == 'b1'"}],"mark":{"type":"line","interpolate":"monotone","strokeWidth":1.3,"clip":true},
    "encoding":{"x":{"field":"x","type":"quantitative","scale":{"domain":[-7.8,231],"nice":false,"zero":false},"axis":{"values":[0,50,100,150,200],"title":"NO₃⁻-N (mg kg⁻¹)"}},
     "y":{"field":"y","type":"quantitative","scale":{"domain":[-2.14,16.36],"nice":false,"zero":false},"axis":{"values":[0,5,10,15],"title":"N₂O emission rate (ng g⁻¹ h⁻¹)"}},
     "color":{"field":"g","type":"nominal","scale":{"domain":["N0_B0","N0_B1","N1_B0","N1_B1"],"range":["#4677d6","#a4c6ee","#5aa43a","#a9d68a"]},"legend":null}}}
  ]},
 {"width":242,"height":181,
  "title":{"text":"Double Litter","subtitle":["N0_B0: y = x² + 0.01x + 0.1 (R²=0.39)","N0_B1: y = x² + 0.04x + −0.15 (R²=0.42)","N1_B0: y = x² + 0.01x + −0.03 (R²=0.42)","N1_B1: y = x² + 0.05x + −0.23 (R²=0.47)"],"anchor":"start","frame":"group","offset":-61,"dx":3,"font":"Liberation Serif","fontSize":11,"fontWeight":"bold","color":"#000","subtitleFont":"Liberation Serif","subtitleFontSize":8.1,"subtitleColor":"#222","subtitleLineHeight":10.5,"subtitlePadding":4},
  "layer":[
   {"data":{"name":"pts"},"transform":[{"filter":"datum.p == 'b2'"}],"mark":{"type":"circle","size":18,"opacity":0.8},
    "encoding":{"x":{"field":"x","type":"quantitative","scale":{"domain":[-14.4,312],"nice":false,"zero":false},"axis":{"values":[0,100,200,300],"title":"NO₃⁻-N (mg kg⁻¹)"}},
     "y":{"field":"y","type":"quantitative","scale":{"domain":[-0.656,4.216],"nice":false,"zero":false},"axis":{"values":[0,1,2,3,4],"title":null}},
     "color":{"field":"g","type":"nominal","scale":{"domain":["N0_B0","N0_B1","N1_B0","N1_B1"],"range":["#4677d6","#a4c6ee","#5aa43a","#a9d68a"]},"legend":null}}},
   {"data":{"name":"crv"},"transform":[{"filter":"datum.p == 'b2'"}],"mark":{"type":"line","interpolate":"monotone","strokeWidth":1.3,"clip":true},
    "encoding":{"x":{"field":"x","type":"quantitative","scale":{"domain":[-14.4,312],"nice":false,"zero":false},"axis":{"values":[0,100,200,300],"title":"NO₃⁻-N (mg kg⁻¹)"}},
     "y":{"field":"y","type":"quantitative","scale":{"domain":[-0.656,4.216],"nice":false,"zero":false},"axis":{"values":[0,1,2,3,4],"title":null}},
     "color":{"field":"g","type":"nominal","scale":{"domain":["N0_B0","N0_B1","N1_B0","N1_B1"],"range":["#4677d6","#a4c6ee","#5aa43a","#a9d68a"]},"legend":null}}}
  ]}
 ]},
{"title":{"text":"(c)","anchor":"start","frame":"bounds","offset":-4.7,"fontSize":13,"fontWeight":"normal","font":"Liberation Serif","color":"#111"},
 "spacing":9,
 "resolve":{"scale":{"x":"independent","y":"independent","color":"independent"}},
 "hconcat":[
 {"width":235,"height":183,
  "title":{"text":"Single Litter","subtitle":["N0_B0: y = 0.01x² + −0.2x + 2.55 (R²=0.85)","N0_B1: y = x² + −0.15x + 2.05 (R²=0.87)","N1_B0: y = 0.01x² + −0.32x + 2.23 (R²=0.69)","N1_B1: y = 0.01x² + −0.29x + 2.35 (R²=0.89)"],"anchor":"start","frame":"group","offset":-59.3,"dx":4,"font":"Liberation Serif","fontSize":11,"fontWeight":"bold","color":"#000","subtitleFont":"Liberation Serif","subtitleFontSize":7.8,"subtitleColor":"#222","subtitleLineHeight":9.4,"subtitlePadding":5},
  "layer":[
   {"data":{"name":"pts"},"transform":[{"filter":"datum.p == 'c1'"}],"mark":{"type":"circle","size":18,"opacity":0.8},
    "encoding":{"x":{"field":"x","type":"quantitative","scale":{"domain":[-2.25,73.2],"nice":false,"zero":false},"axis":{"values":[0,20,40,60],"title":"Carbon remaing (%)"}},
     "y":{"field":"y","type":"quantitative","scale":{"domain":[-1.6,17.95],"nice":false,"zero":false},"axis":{"values":[0,5,10,15],"title":"CO₂ emission rate  (μg g⁻¹ h⁻¹)"}},
     "color":{"field":"g","type":"nominal","scale":{"domain":["N0_B0","N0_B1","N1_B0","N1_B1"],"range":["#4677d6","#a4c6ee","#5aa43a","#a9d68a"]},"legend":null}}},
   {"data":{"name":"crv"},"transform":[{"filter":"datum.p == 'c1'"}],"mark":{"type":"line","interpolate":"monotone","strokeWidth":1.3,"clip":true},
    "encoding":{"x":{"field":"x","type":"quantitative","scale":{"domain":[-2.25,73.2],"nice":false,"zero":false},"axis":{"values":[0,20,40,60],"title":"Carbon remaing (%)"}},
     "y":{"field":"y","type":"quantitative","scale":{"domain":[-1.6,17.95],"nice":false,"zero":false},"axis":{"values":[0,5,10,15],"title":"CO₂ emission rate  (μg g⁻¹ h⁻¹)"}},
     "color":{"field":"g","type":"nominal","scale":{"domain":["N0_B0","N0_B1","N1_B0","N1_B1"],"range":["#4677d6","#a4c6ee","#5aa43a","#a9d68a"]},"legend":null}}}
  ]},
 {"width":241,"height":183,
  "title":{"text":"Double Litter","subtitle":["N0_B0: y = 0.01x² + −0.84x + 13.15 (R²=0.67)","N0_B1: y = 0.01x² + −0.33x + 4.56 (R²=0.71)","N1_B0: y = 0.01x² + −0.59x + 6.33 (R²=0.92)","N1_B1: y = 0.01x² + −0.49x + 5.07 (R²=0.84)"],"anchor":"start","frame":"group","offset":-59.3,"dx":4,"font":"Liberation Serif","fontSize":11,"fontWeight":"bold","color":"#000","subtitleFont":"Liberation Serif","subtitleFontSize":7.8,"subtitleColor":"#222","subtitleLineHeight":9.7,"subtitlePadding":5},
  "layer":[
   {"data":{"name":"pts"},"transform":[{"filter":"datum.p == 'c2'"}],"mark":{"type":"circle","size":18,"opacity":0.8},
    "encoding":{"x":{"field":"x","type":"quantitative","scale":{"domain":[-0.88,78.7],"nice":false,"zero":false},"axis":{"values":[0,20,40,60],"title":"Carbon remaing (%)"}},
     "y":{"field":"y","type":"quantitative","scale":{"domain":[-2.27,33.25],"nice":false,"zero":false},"axis":{"values":[0,10,20,30],"title":null}},
     "color":{"field":"g","type":"nominal","scale":{"domain":["N0_B0","N0_B1","N1_B0","N1_B1"],"range":["#4677d6","#a4c6ee","#5aa43a","#a9d68a"]},"legend":null}}},
   {"data":{"name":"crv"},"transform":[{"filter":"datum.p == 'c2'"}],"mark":{"type":"line","interpolate":"monotone","strokeWidth":1.3,"clip":true},
    "encoding":{"x":{"field":"x","type":"quantitative","scale":{"domain":[-0.88,78.7],"nice":false,"zero":false},"axis":{"values":[0,20,40,60],"title":"Carbon remaing (%)"}},
     "y":{"field":"y","type":"quantitative","scale":{"domain":[-2.27,33.25],"nice":false,"zero":false},"axis":{"values":[0,10,20,30],"title":null}},
     "color":{"field":"g","type":"nominal","scale":{"domain":["N0_B0","N0_B1","N1_B0","N1_B1"],"range":["#4677d6","#a4c6ee","#5aa43a","#a9d68a"]},"legend":null}}}
  ]}
 ]}
],
"spacing":-4,
"resolve":{"scale":{"x":"independent","y":"independent","color":"independent"}}
}
